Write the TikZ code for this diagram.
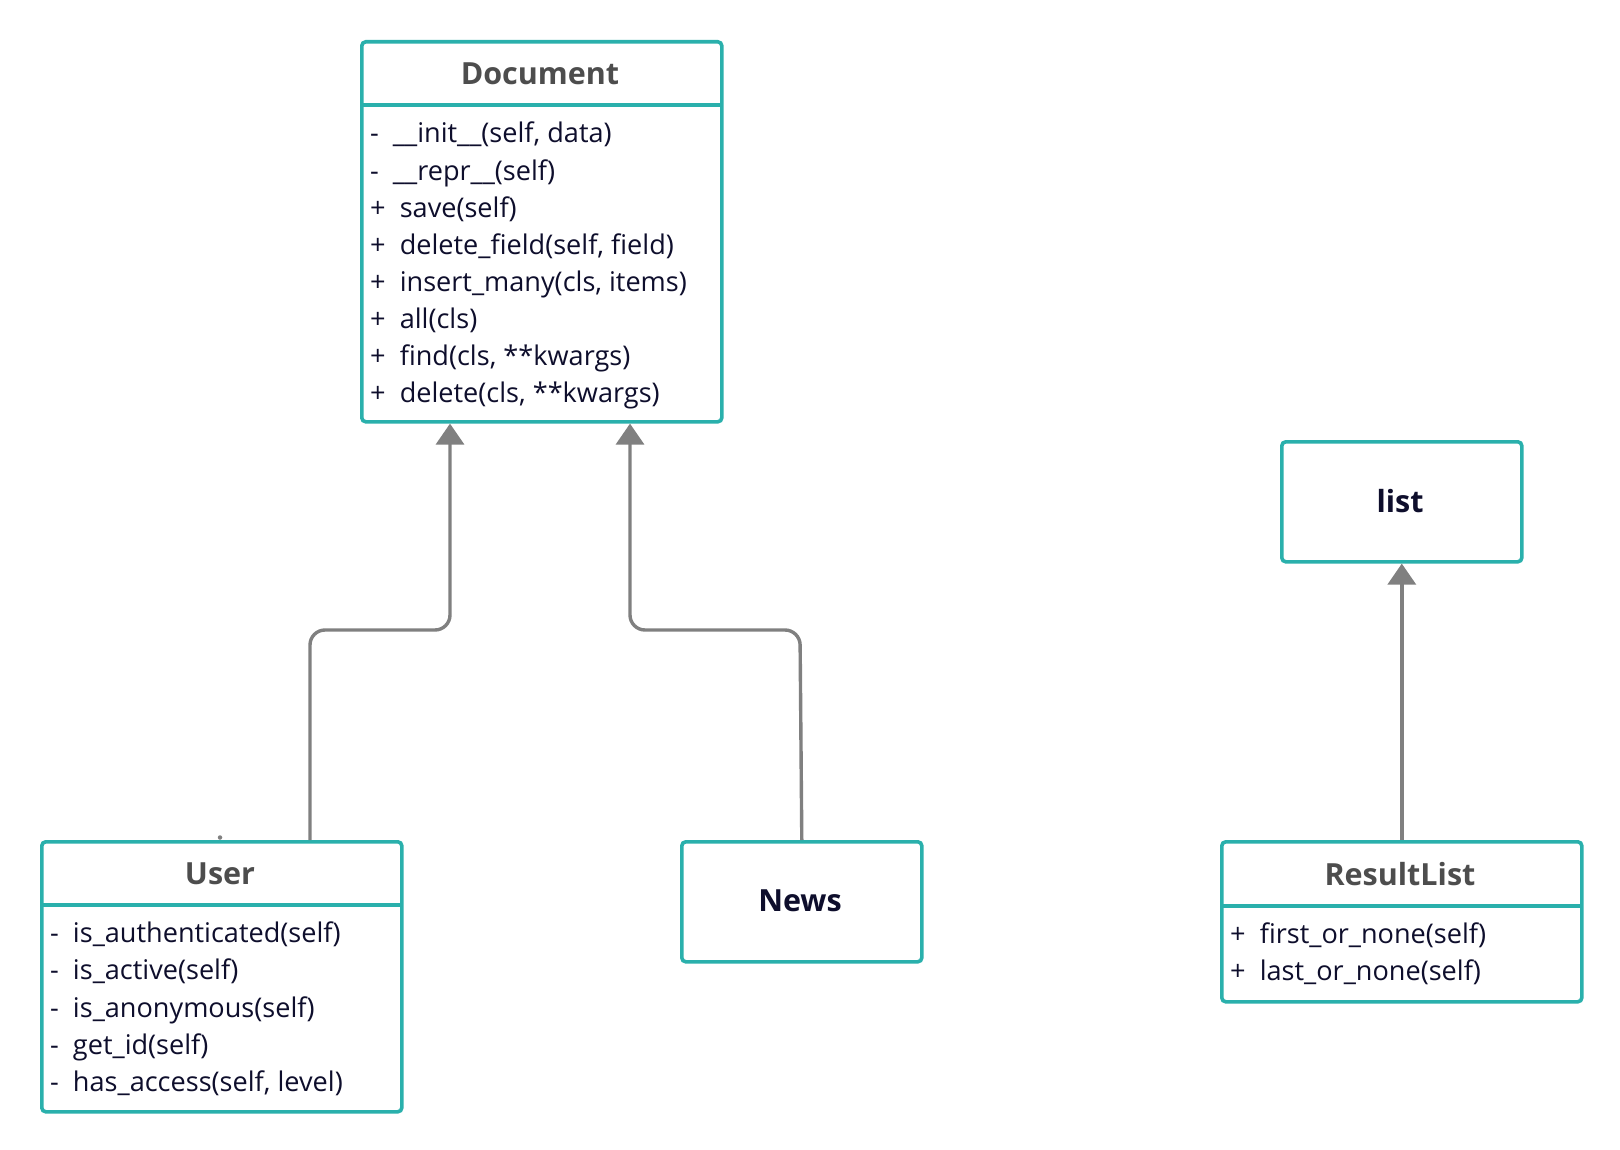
\documentclass[tikz,border=0pt]{standalone}
\usepackage{fontspec}
\setmainfont{Open Sans}
\usetikzlibrary{arrows.meta}
\definecolor{teal2}{HTML}{2AB0AC}
\definecolor{connc}{HTML}{808080}
\definecolor{ttl}{HTML}{4D4D4D}
\definecolor{ink}{HTML}{0E0E2C}
\tikzset{
 cls/.style={draw=teal2, line width=3.6pt, rounded corners=4pt, inner sep=0pt, anchor=north west, fill=white},
 ttlText/.style={font=\fontsize{30.5}{36}\selectfont\bfseries, text=ttl, inner sep=0pt},
 nameText/.style={font=\fontsize{30.5}{36}\selectfont\bfseries, text=ink, inner sep=0pt},
 mem/.style={font=\fontsize{27.1}{32}\selectfont, text=ink, anchor=west, inner sep=0pt, text height=0.75em, text depth=0.25em},
 sepline/.style={draw=teal2, line width=3.6pt},
 inh/.style={draw=connc, line width=3.4pt, rounded corners=15pt, -{Triangle[width=28pt,length=21pt]}},
}
\begin{document}
\begin{tikzpicture}[x=1pt,y=-1pt]
\useasboundingbox[fill=white] (0,0) rectangle (1620,1150);

% Document
\node[cls, minimum width=360pt, minimum height=380pt] (doc) at (360,40) {};
\coordinate (dsl) at (360,105); \coordinate (dsr) at (720,105);
\draw[sepline] (dsl) -- (dsr);
\node[ttlText] (doct) at (540,74) {Document};
\node[mem] (d1) at (370,140.5) {-\ \ \_\_init\_\_(self, data)};
\node[mem] (d2) at (370,177.6) {-\ \ \_\_repr\_\_(self)};
\node[mem] (d3) at (370,214.7) {+\ \ save(self)};
\node[mem] (d4) at (370,251.8) {+\ \ delete\_field(self, field)};
\node[mem] (d5) at (370,288.9) {+\ \ insert\_many(cls, items)};
\node[mem] (d6) at (370,326.0) {+\ \ all(cls)};
\node[mem] (d7) at (370,363.1) {+\ \ find(cls, **kwargs)};
\node[mem] (d8) at (370,400.2) {+\ \ delete(cls, **kwargs)};

% User
\node[cls, minimum width=360pt, minimum height=270pt] (user) at (40,840) {};
\coordinate (usl) at (40,905); \coordinate (usr) at (400,905);
\draw[sepline] (usl) -- (usr);
\node[ttlText] (usert) at (220,874) {User};
\node[mem] (u1) at (50,940.2) {-\ \ is\_authenticated(self)};
\node[mem] (u2) at (50,977.4) {-\ \ is\_active(self)};
\node[mem] (u3) at (50,1014.6) {-\ \ is\_anonymous(self)};
\node[mem] (u4) at (50,1051.8) {-\ \ get\_id(self)};
\node[mem] (u5) at (50,1089.0) {-\ \ has\_access(self, level)};
\node[circle, fill=connc, inner sep=0pt, minimum size=4.5pt] (udot) at (220,837.5) {};

% News
\node[cls, minimum width=240pt, minimum height=120pt] (news) at (680,840) {};
\node[nameText] (newst) at (800,901) {News};

% list
\node[cls, minimum width=240pt, minimum height=120pt] (lst) at (1280,440) {};
\node[nameText] (lstt) at (1400,501) {list};

% ResultList
\node[cls, minimum width=360pt, minimum height=160pt] (rl) at (1220,840) {};
\coordinate (rsl) at (1220,906); \coordinate (rsr) at (1580,906);
\draw[sepline] (rsl) -- (rsr);
\node[ttlText] (rlt) at (1400,874) {ResultList};
\node[mem] (r1) at (1230,940.5) {+\ \ first\_or\_none(self)};
\node[mem] (r2) at (1230,977.5) {+\ \ last\_or\_none(self)};

% connectors
\coordinate (k1) at (310,630); \coordinate (k2) at (450,630);
\draw[inh] (user.north -| k1) -- (k1) -- (k2) -- (doc.south -| k2);
\coordinate (k3) at (800,630); \coordinate (k4) at (630,630);
\draw[inh] (news.north) -- (k3) -- (k4) -- (doc.south -| k4);
\draw[inh] (rl.north) -- (lst.south);
\end{tikzpicture}
\end{document}
